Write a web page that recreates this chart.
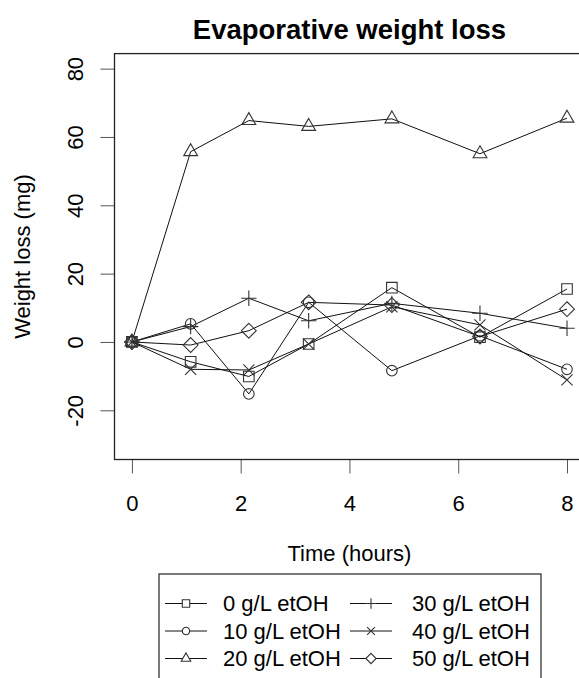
<!DOCTYPE html>
<html>
<head>
<meta charset="utf-8">
<script src="https://cdn.jsdelivr.net/npm/d3@7"></script>
<style>
  html, body { margin: 0; padding: 0; background: #fff; }
  svg { display: block; font-family: "Liberation Sans", Arial, sans-serif; }
</style>
</head>
<body>
<div id="chart"></div>
<script>
// time points (hours)
var times = [0, 1.08, 2.15, 3.25, 4.78, 6.4, 8];

// weight loss (mg) per ethanol concentration
var loss0 = [0, -5.8, -10.1, -0.6, 15.9, 1.4, 15.5];
var loss10 = [0, 5.3, -15.2, 11.6, -8.4, 1.8, -8.0];
var loss20 = [0, 55.7, 64.8, 63.1, 65.3, 55.1, 65.5];
var loss30 = [0, 4.5, 12.8, 6.2, 11.3, 8.4, 4.0];
var loss40 = [0, -8.0, -8.2, -0.6, 10.3, 5.0, -11.1];
var loss50 = [0, -0.9, 3.3, 11.6, 10.8, 1.6, 9.6];

var seriesNames = ["0 g/L etOH", "10 g/L etOH", "20 g/L etOH", "30 g/L etOH", "40 g/L etOH", "50 g/L etOH"];
var seriesShapes = ["square", "circle", "triangle", "plus", "cross", "diamond"];

var xTicks = [0, 2, 4, 6, 8];
var yTicks = [-20, 0, 20, 40, 60, 80];
var xLim = [0, 8];
var yLim = [-30, 80];

!(function(d3) {
  var width = 579,
    height = 678;
  var margin = { left: 114.5, right: 584.4, top: 53.6, bottom: 459.5 };
  var fontSize = 22;

  // shapes drawn like R's pch 0, 1, 2, 3, 4, 5
  var shapes = {
    square: function(ctx, r) {
      ctx.rect(-r, -r, 2 * r, 2 * r);
    },
    circle: function(ctx, r) {
      ctx.moveTo(r, 0);
      ctx.arc(0, 0, r, 0, 2 * Math.PI);
    },
    triangle: function(ctx, r) {
      var w = r * 1.3,
        h = w * 1.732;
      ctx.moveTo(0, -h * 2 / 3);
      ctx.lineTo(w, h / 3);
      ctx.lineTo(-w, h / 3);
      ctx.closePath();
    },
    plus: function(ctx, r) {
      var a = r * 1.45;
      ctx.moveTo(-a, 0);
      ctx.lineTo(a, 0);
      ctx.moveTo(0, -a);
      ctx.lineTo(0, a);
    },
    cross: function(ctx, r) {
      var a = r * 1.05;
      ctx.moveTo(-a, -a);
      ctx.lineTo(a, a);
      ctx.moveTo(-a, a);
      ctx.lineTo(a, -a);
    },
    diamond: function(ctx, r) {
      var a = r * 1.4;
      ctx.moveTo(0, -a);
      ctx.lineTo(a, 0);
      ctx.lineTo(0, a);
      ctx.lineTo(-a, 0);
      ctx.closePath();
    }
  };

  var symbolPath = function(shape, r) {
    return d3.symbol().type({ draw: function(ctx) { shapes[shape](ctx, r); } })();
  };

  // R prints a plain hyphen for negatives
  var plainNumber = function(d) {
    return String(d);
  };

  var svg = d3
    .select("#chart")
    .append("svg")
    .attr("width", width)
    .attr("height", height);

  svg
    .append("rect")
    .attr("width", width)
    .attr("height", height)
    .attr("fill", "#fff");

  // R style 4% padding around the limits
  var xPad = (xLim[1] - xLim[0]) * 0.04,
    yPad = (yLim[1] - yLim[0]) * 0.04;
  var x = d3
    .scaleLinear()
    .domain([xLim[0] - xPad, xLim[1] + xPad])
    .range([margin.left, margin.right]);
  var y = d3
    .scaleLinear()
    .domain([yLim[0] - yPad, yLim[1] + yPad])
    .range([margin.bottom, margin.top]);

  var series = [loss0, loss10, loss20, loss30, loss40, loss50].map(function(values, i) {
    return {
      name: seriesNames[i],
      shape: seriesShapes[i],
      points: values.map(function(v, j) {
        return { t: times[j], v: v };
      })
    };
  });

  // axes
  var xAxis = d3
    .axisBottom(x)
    .tickValues(xTicks)
    .tickSize(14)
    .tickPadding(22)
    .tickFormat(plainNumber);
  var gx = svg
    .append("g")
    .attr("transform", "translate(0," + margin.bottom + ")")
    .call(xAxis);
  gx.select(".domain").remove();
  gx.selectAll("line").attr("stroke", "#555");
  gx.selectAll("text")
    .attr("font-size", fontSize)
    .attr("fill", "#000")
    .attr("font-family", "Liberation Sans, Arial, sans-serif");

  var yAxis = d3
    .axisLeft(y)
    .tickValues(yTicks)
    .tickSize(14)
    .tickFormat(plainNumber);
  var gy = svg
    .append("g")
    .attr("transform", "translate(" + margin.left + ",0)")
    .call(yAxis);
  gy.select(".domain").remove();
  gy.selectAll("line").attr("stroke", "#555");
  gy.selectAll("text")
    .attr("font-size", fontSize)
    .attr("fill", "#000")
    .attr("font-family", "Liberation Sans, Arial, sans-serif")
    .attr("x", null)
    .attr("dy", null)
    .attr("text-anchor", "middle")
    .attr("dominant-baseline", "central")
    .attr("transform", "translate(-39.5,0) rotate(-90)");

  // plot box
  svg
    .append("rect")
    .attr("x", margin.left)
    .attr("y", margin.top)
    .attr("width", margin.right - margin.left)
    .attr("height", margin.bottom - margin.top)
    .attr("fill", "none")
    .attr("stroke", "#222")
    .attr("stroke-width", 1.3);

  // lines
  var line = d3
    .line()
    .x(function(d) { return x(d.t); })
    .y(function(d) { return y(d.v); });

  var plot = svg.append("g").attr("class", "panel");
  plot
    .selectAll(".series-line")
    .data(series)
    .enter()
    .append("path")
    .attr("class", "series-line")
    .attr("d", function(d) { return line(d.points); })
    .attr("fill", "none")
    .attr("stroke", "#111")
    .attr("stroke-width", 1);

  var groups = plot
    .selectAll(".series-points")
    .data(series)
    .enter()
    .append("g")
    .attr("class", "series-points");
  groups
    .selectAll("path")
    .data(function(d) {
      return d.points.map(function(p) { return { t: p.t, v: p.v, shape: d.shape }; });
    })
    .enter()
    .append("path")
    .attr("transform", function(d) {
      return "translate(" + x(d.t) + "," + y(d.v) + ")";
    })
    .attr("d", function(d) { return symbolPath(d.shape, 5.3); })
    .attr("fill", "none")
    .attr("stroke", "#333")
    .attr("stroke-width", 1.1);

  // titles
  svg
    .append("text")
    .attr("x", (margin.left + margin.right) / 2)
    .attr("y", 39)
    .attr("text-anchor", "middle")
    .attr("font-size", 27.5)
    .attr("font-weight", "bold")
    .text("Evaporative weight loss");

  svg
    .append("text")
    .attr("x", (margin.left + margin.right) / 2)
    .attr("y", 553)
    .attr("text-anchor", "middle")
    .attr("dominant-baseline", "central")
    .attr("font-size", fontSize)
    .text("Time (hours)");

  svg
    .append("text")
    .attr("transform", "translate(22," + (margin.top + margin.bottom) / 2 + ") rotate(-90)")
    .attr("text-anchor", "middle")
    .attr("dominant-baseline", "central")
    .attr("font-size", fontSize)
    .text("Weight loss (mg)");

  // legend
  var legend = svg.append("g").attr("class", "legend");
  legend
    .append("rect")
    .attr("x", 159)
    .attr("y", 574)
    .attr("width", 382)
    .attr("height", 120)
    .attr("fill", "#fff")
    .attr("stroke", "#222")
    .attr("stroke-width", 1.2);

  var colX = [165, 350],
    textX = [58, 62],
    rowY = [603.5, 631, 658.5];
  var items = legend
    .selectAll(".item")
    .data(series)
    .enter()
    .append("g")
    .attr("class", "item")
    .attr("transform", function(d, i) {
      return "translate(" + colX[Math.floor(i / 3)] + "," + rowY[i % 3] + ")";
    });
  items
    .append("line")
    .attr("x1", 0)
    .attr("x2", 42)
    .attr("stroke", "#111")
    .attr("stroke-width", 1);
  items
    .append("path")
    .attr("transform", "translate(21,0)")
    .attr("d", function(d) { return symbolPath(d.shape, 3.7); })
    .attr("fill", "#fff")
    .attr("stroke", "#333")
    .attr("stroke-width", 1.1);
  items
    .append("text")
    .attr("x", function(d, i) { return textX[Math.floor(i / 3)]; })
    .attr("dominant-baseline", "central")
    .attr("font-size", fontSize)
    .text(function(d) { return d.name; });
})(d3);
</script>
</body>
</html>
